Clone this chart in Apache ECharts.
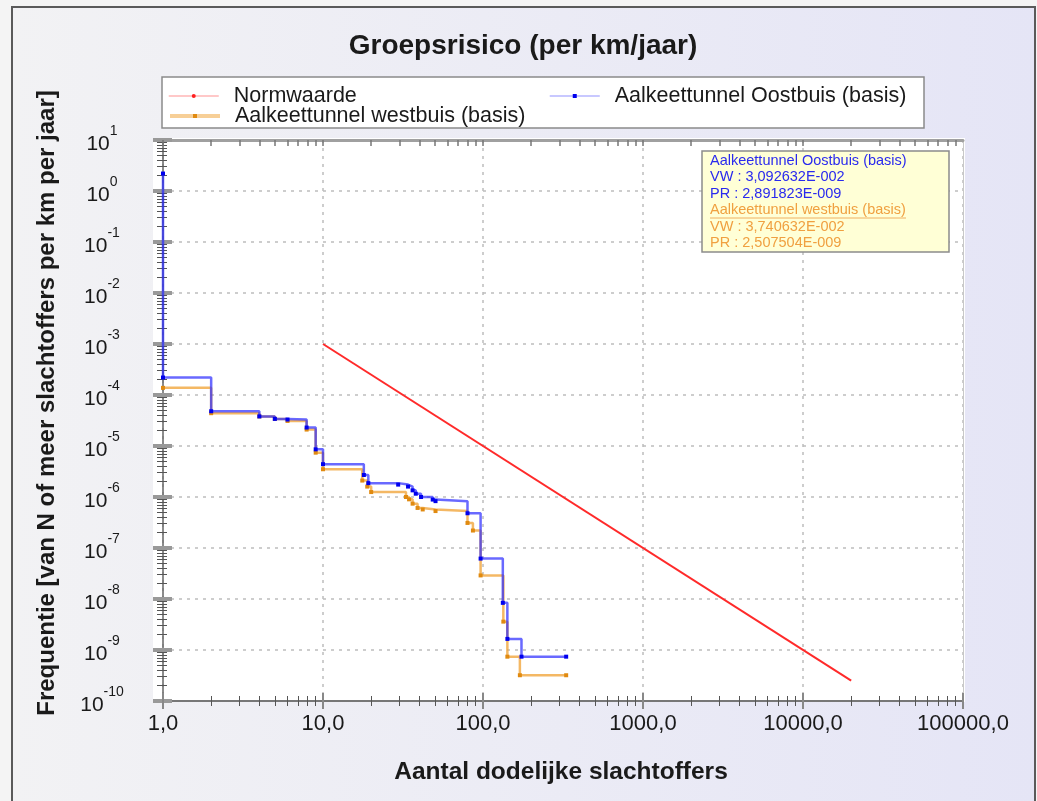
<!DOCTYPE html>
<html><head><meta charset="utf-8">
<script src="https://cdn.jsdelivr.net/npm/echarts@6/dist/echarts.min.js"></script>
<style>html,body{margin:0;padding:0;background:#f4f4f4}#c{width:1037px;height:801px}</style>
</head><body><div id="c"></div>
<script>
// ---- data ----
const TITLE = 'Groepsrisico (per km/jaar)';
const X_TITLE = 'Aantal dodelijke slachtoffers';
const Y_TITLE = 'Frequentie [van N of meer slachtoffers per km per jaar]';
const SERIES_NAMES = ['Normwaarde', 'Aalkeettunnel Oostbuis (basis)', 'Aalkeettunnel westbuis (basis)'];

const N_NORM = [10, 20000];
const F_NORM = [1e-3, 2.5e-10];

const N_OOST = [1, 1, 2, 4, 5, 6, 7.9, 9, 10, 18, 19.2, 29.5, 34, 36.3, 38, 41, 48.5, 50.5, 80, 96.6, 133, 142, 174, 331];
const F_OOST = [2.2, 2.2e-4, 4.8e-5, 3.8e-5, 3.4e-5, 3.3e-5, 2.3e-5, 8.6e-6, 4.4e-6, 2.7e-6, 1.87e-6, 1.75e-6, 1.6e-6, 1.35e-6, 1.16e-6, 1.0e-6, 8.9e-7, 8.3e-7, 4.8e-7, 6.2e-8, 8.4e-9, 1.65e-9, 7.4e-10, 7.4e-10];

const N_WEST = [1, 2, 4, 5, 6, 7.9, 9, 10, 17.6, 18.9, 20, 33, 34.5, 36.3, 39, 42, 50.5, 80, 86.5, 96.6, 134, 142, 170, 331];
const F_WEST = [1.38e-4, 4.4e-5, 3.8e-5, 3.4e-5, 3.1e-5, 2.1e-5, 7.4e-6, 3.5e-6, 2.1e-6, 1.6e-6, 1.25e-6, 1.0e-6, 9e-7, 7.4e-7, 6.1e-7, 5.7e-7, 5.3e-7, 3.1e-7, 2.2e-7, 2.9e-8, 3.6e-9, 7.4e-10, 3.2e-10, 3.2e-10];

const INFO_LINES = [
  'Aalkeettunnel Oostbuis (basis)', 'VW : 3,092632E-002', 'PR : 2,891823E-009',
  'Aalkeettunnel westbuis (basis)', 'VW : 3,740632E-002', 'PR : 2,507504E-009'
];

// axis tick structure
const X_MIN = 1, X_MAX = 100000;
const Y_MIN = 1e-10, Y_MAX = 10;
const X_DECADES = [1, 10, 100, 1000, 10000];
const Y_DECADES = [1e-10, 1e-9, 1e-8, 1e-7, 1e-6, 1e-5, 1e-4, 1e-3, 1e-2, 1e-1, 1];
const MINOR_MULT = [2, 3, 4, 5, 6, 7, 8, 9];

// ---- build ----
const FONT = "'Liberation Sans', Arial, sans-serif";
const minorOf = decs => decs.flatMap(d => MINOR_MULT.map(m => +(m * d).toPrecision(6)));
const X_MINOR = minorOf(X_DECADES);
const Y_MINOR = minorOf(Y_DECADES);
const zip = (a, b) => a.map((v, i) => [v, b[i]]);

function axis(kind, extra) {
  const base = {
    type: 'log', logBase: 10,
    min: kind === 'x' ? X_MIN : Y_MIN, max: kind === 'x' ? X_MAX : Y_MAX,
    axisLine: { show: false }, axisLabel: { show: false }, splitLine: { show: false },
    axisTick: { show: false }, axisPointer: { show: false }
  };
  if (kind === 'y') base.interval = 1;
  return Object.assign(base, extra);
}

const xAxes = [
  axis('x', {
    position: 'bottom',
    axisLine: { show: true, lineStyle: { color: '#777', width: 2 } },
    axisTick: { show: true, length: 8, lineStyle: { color: '#888', width: 2 } },
    axisLabel: { show: true, margin: 12, fontSize: 22, fontFamily: FONT, color: '#1a1a1a',
      formatter: v => v.toFixed(1).replace('.', ',') },
    splitLine: { show: true, lineStyle: { color: '#bdbdbd', width: 1.5, type: [3, 5] } }
  }),
  axis('x', { position: 'bottom', axisTick: { show: true, inside: true, length: 8, lineStyle: { color: '#888', width: 2 } } }),
  axis('x', { position: 'bottom', axisTick: { show: true, length: 5, customValues: X_MINOR, lineStyle: { color: '#555', width: 1 } } }),
  axis('x', { position: 'bottom', axisTick: { show: true, inside: true, length: 5, customValues: X_MINOR, lineStyle: { color: '#555', width: 1 } } }),
  axis('x', { position: 'top', axisLine: { show: true, lineStyle: { color: '#a0a0a0', width: 3 } },
    axisTick: { show: true, inside: true, length: 6, customValues: X_MINOR.concat(X_DECADES), lineStyle: { color: '#777', width: 1.5 } } })
];

const yAxes = [
  axis('y', {
    position: 'left',
    axisLine: { show: true, lineStyle: { color: '#666', width: 1.5 } },
    axisTick: { show: true, length: 10, lineStyle: { color: '#999', width: 4 } },
    axisLabel: { show: true, align: 'center', margin: 61,
      formatter: v => '{b|10}{s|' + Math.round(Math.log10(v)) + '}',
      rich: {
        b: { fontSize: 21, fontFamily: FONT, color: '#1a1a1a', padding: [8, 0, 0, 0] },
        s: { fontSize: 14, fontFamily: FONT, color: '#1a1a1a', padding: [0, 0, 18, 0] }
      } },
    splitLine: { show: true, lineStyle: { color: '#bdbdbd', width: 1.5, type: [3, 5] } }
  }),
  axis('y', { position: 'left', axisTick: { show: true, inside: true, length: 9, lineStyle: { color: '#999', width: 4 } } }),
  axis('y', { position: 'left', axisTick: { show: true, length: 6, customValues: Y_MINOR, lineStyle: { color: '#555', width: 1 } } }),
  axis('y', { position: 'left', axisTick: { show: true, inside: true, length: 4, customValues: Y_MINOR, lineStyle: { color: '#555', width: 1 } } }),
  axis('y', { position: 'right', axisLine: { show: true, lineStyle: { color: '#c8c8c8', width: 1 } } })
];

const chart = echarts.init(document.getElementById('c'), null, { renderer: 'canvas' });
chart.setOption({
  animation: false,
  backgroundColor: '#f4f4f4',
  grid: { left: 163, right: 74, top: 140, bottom: 100, containLabel: false },
  xAxis: xAxes,
  yAxis: yAxes,
  legend: [
    { data: [{ name: SERIES_NAMES[0], lineStyle: { width: 1.5, opacity: 0.35 } }], left: 168, top: 85 },
    { data: [{ name: SERIES_NAMES[1], lineStyle: { width: 1.5, opacity: 0.35 } }], left: 549, top: 85 },
    { data: [{ name: SERIES_NAMES[2], lineStyle: { width: 4, opacity: 0.5 } }], left: 168, top: 105 }
  ].map(l => Object.assign(l, {
    orient: 'horizontal', padding: 0, itemGap: 0, itemWidth: 50, itemHeight: 5, selectedMode: false,
    textStyle: { fontSize: 21.5, fontFamily: FONT, color: '#1a1a1a', padding: [0, 0, 0, 10] }
  })),
  series: [
    { name: SERIES_NAMES[0], type: 'line', data: zip(N_NORM, F_NORM), xAxisIndex: 0, yAxisIndex: 0,
      symbol: 'none', color: '#ff2020', lineStyle: { color: '#ff2a2a', width: 2 }, z: 3 },
    { name: SERIES_NAMES[1], type: 'line', step: 'end', data: zip(N_OOST, F_OOST), xAxisIndex: 0, yAxisIndex: 0,
      symbol: 'rect', symbolSize: 4, color: '#1010ff', itemStyle: { color: '#0000ee' },
      lineStyle: { color: '#2a2aff', width: 2.5, opacity: 0.7 }, z: 5 },
    { name: SERIES_NAMES[2], type: 'line', step: 'end', data: zip(N_WEST, F_WEST), xAxisIndex: 0, yAxisIndex: 0,
      symbol: 'rect', symbolSize: 4, color: '#f0a030', itemStyle: { color: '#e08a10' },
      lineStyle: { color: '#f0a030', width: 2.5, opacity: 0.75 }, z: 4 }
  ],
  graphic: [
    { type: 'rect', z: -100, shape: { x: 12, y: 7, width: 1023, height: 800 },
      style: { fill: new echarts.graphic.LinearGradient(0, 0, 1, 0, [{ offset: 0, color: '#f2f2f4' }, { offset: 1, color: '#e5e5f6' }]),
        stroke: '#5a5a5a', lineWidth: 2 } },
    { type: 'rect', z: -99, shape: { x: 153, y: 138, width: 812, height: 564 }, style: { fill: '#ffffff' } },
    { type: 'rect', z: -98, shape: { x: 162, y: 77, width: 762, height: 51 },
      style: { fill: '#ffffff', stroke: '#8a8a8a', lineWidth: 1.5 } },
    { type: 'text', z: 10, x: 523, y: 46, style: { text: TITLE, font: 'bold 28px ' + FONT, fill: '#1a1a1a', align: 'center', verticalAlign: 'middle' } },
    { type: 'text', z: 10, x: 561, y: 772, style: { text: X_TITLE, font: 'bold 24.5px ' + FONT, fill: '#1a1a1a', align: 'center', verticalAlign: 'middle' } },
    { type: 'text', z: 10, x: 47, y: 403, rotation: Math.PI / 2, style: { text: Y_TITLE, font: 'bold 24px ' + FONT, fill: '#1a1a1a', align: 'center', verticalAlign: 'middle' } },
    { type: 'rect', z: 20, shape: { x: 702, y: 151, width: 247, height: 101 },
      style: { fill: '#ffffd6', stroke: '#8c8c8c', lineWidth: 1.5 } },
    ...INFO_LINES.map((t, i) => ({ type: 'text', z: 21, x: 710, y: 161 + i * 16.4,
      style: { text: t, font: '14.5px ' + FONT, fill: i < 3 ? '#2a2aee' : '#f0a040', align: 'left', verticalAlign: 'middle' } })),
    { type: 'line', z: 21, shape: { x1: 710, y1: 218, x2: 906, y2: 218 }, style: { stroke: '#f0b060', lineWidth: 1 } }
  ]
});
</script></body></html>
